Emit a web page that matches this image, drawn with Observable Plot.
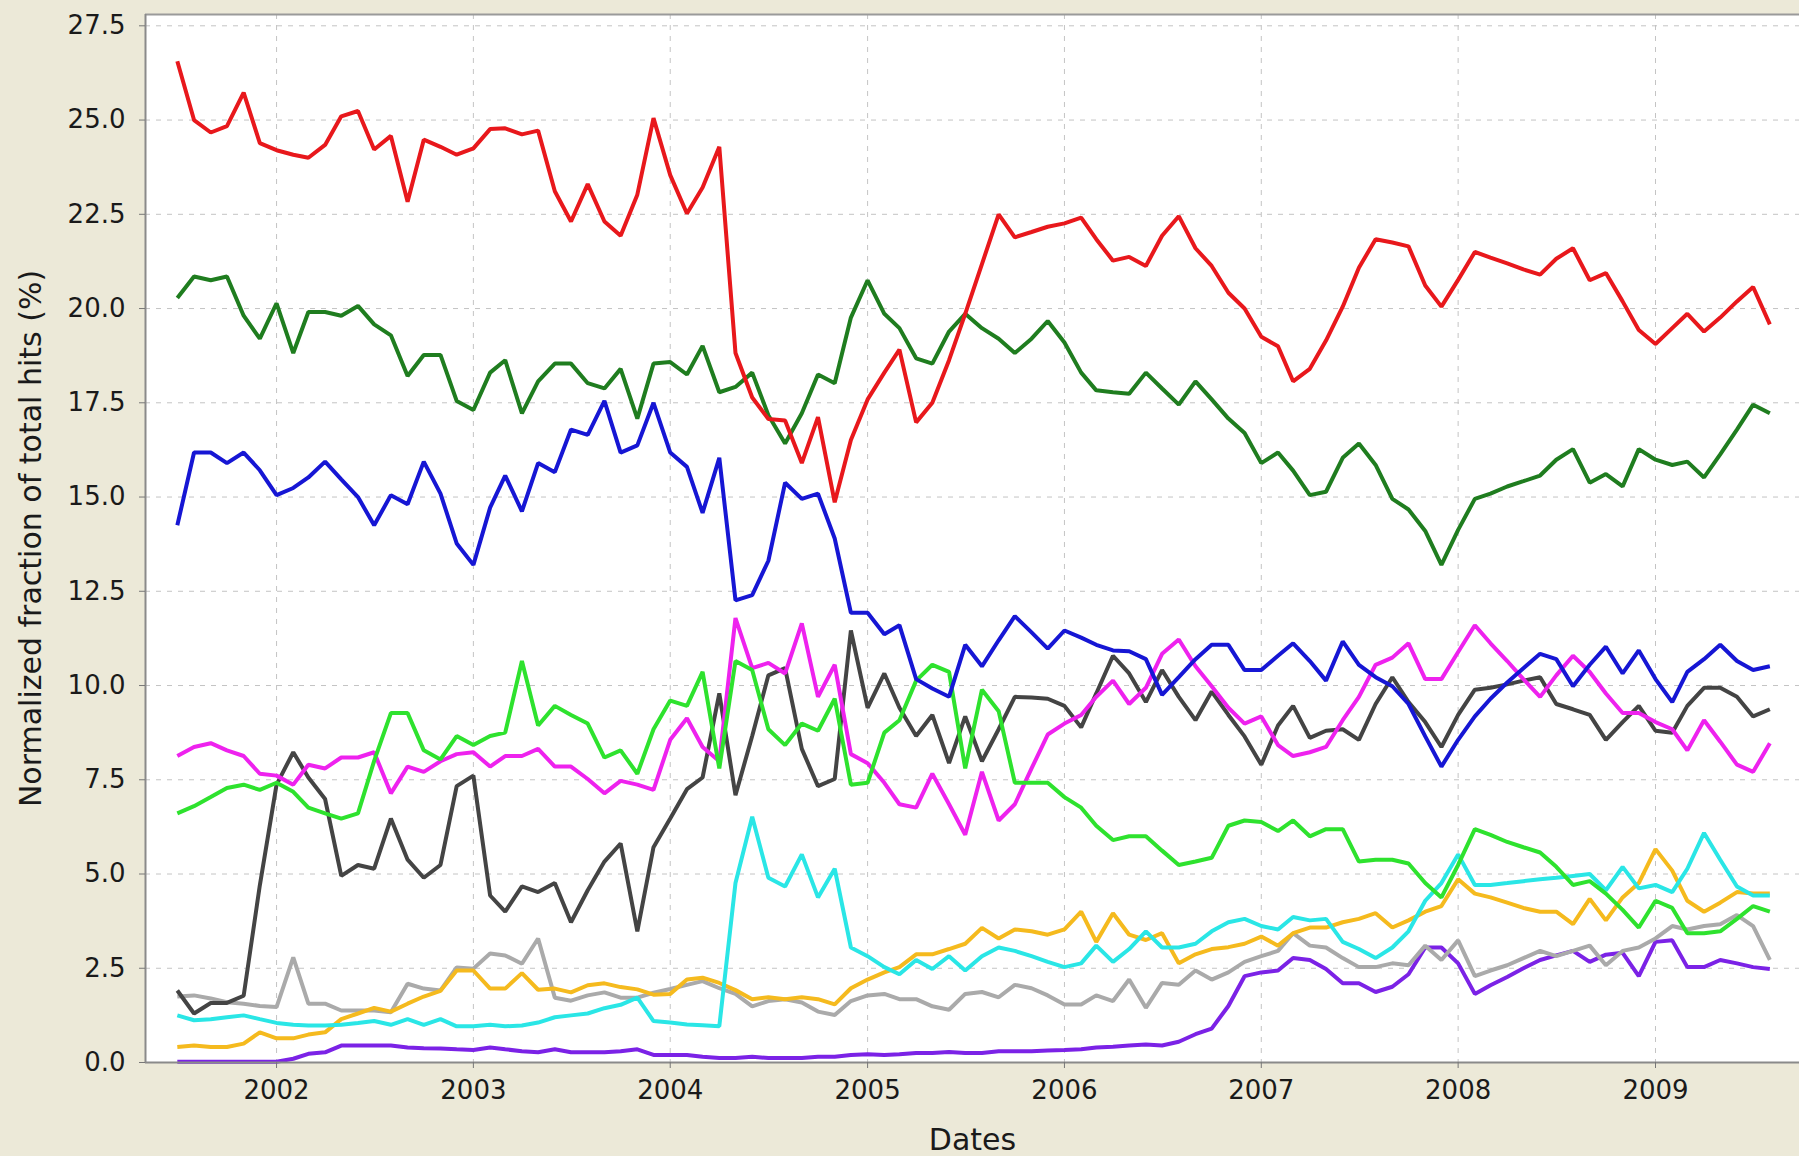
<!DOCTYPE html>
<html><head><meta charset="utf-8">
<script src="https://cdn.jsdelivr.net/npm/d3@7"></script>
<script src="https://cdn.jsdelivr.net/npm/@observablehq/plot@0.6"></script>
<style>
html,body{margin:0;padding:0;background:#ece9d8;}
#chart{width:1799px;height:1156px;overflow:hidden;}
#chart svg{display:block;}
</style></head><body><div id="chart"></div>
<script>
// Monthly observations, July 2001 .. August 2009
const firstYear = 2001, firstMonth = 6, monthCount = 98;
const xTickYears = [2002, 2003, 2004, 2005, 2006, 2007, 2008, 2009];
const yTickValues = [0, 2.5, 5, 7.5, 10, 12.5, 15, 17.5, 20, 22.5, 25, 27.5];

const redSeries = [26.56,25.0,24.67,24.84,25.73,24.39,24.2,24.08,24.0,24.34,25.1,25.24,
24.22,24.58,22.83,24.48,24.29,24.08,24.25,24.76,24.78,24.62,24.72,23.11,
22.31,23.3,22.31,21.93,23.02,25.05,23.54,22.52,23.21,24.29,18.82,17.64,
17.07,17.03,15.9,17.12,14.86,16.51,17.59,18.3,18.91,16.98,17.5,18.63,
19.86,21.18,22.5,21.89,22.03,22.17,22.26,22.41,21.84,21.27,21.37,21.13,
21.93,22.45,21.6,21.13,20.42,20.0,19.25,19.0,18.07,18.4,19.15,20.05,
21.08,21.84,21.75,21.65,20.61,20.05,20.76,21.5,21.35,21.2,21.04,20.9,
21.32,21.6,20.75,20.94,20.19,19.43,19.06,19.48,19.86,19.39,19.76,20.19,
20.57,19.58];
const darkGreenSeries = [20.28,20.85,20.75,20.85,19.81,19.2,20.14,18.82,19.91,19.91,19.81,20.07,
19.58,19.29,18.21,18.77,18.77,17.55,17.31,18.3,18.63,17.22,18.07,18.54,
18.54,18.02,17.88,18.4,17.08,18.54,18.58,18.25,19.01,17.78,17.92,18.3,
17.17,16.42,17.22,18.25,18.02,19.76,20.75,19.86,19.48,18.68,18.54,19.39,
19.86,19.48,19.2,18.82,19.2,19.67,19.1,18.3,17.83,17.78,17.74,18.3,
17.88,17.45,18.07,17.59,17.08,16.7,15.9,16.18,15.7,15.05,15.14,16.04,
16.42,15.85,14.95,14.67,14.1,13.2,14.13,14.95,15.09,15.28,15.42,15.57,
15.99,16.27,15.38,15.61,15.28,16.27,15.99,15.85,15.94,15.52,16.13,16.79,
17.45,17.22];
const blueSeries = [14.25,16.18,16.18,15.9,16.18,15.71,15.05,15.24,15.52,15.94,15.47,15.0,
14.25,15.05,14.81,15.94,15.09,13.77,13.2,14.72,15.57,14.62,15.9,15.66,
16.79,16.65,17.55,16.18,16.37,17.5,16.18,15.8,14.58,16.04,12.26,12.4,
13.31,15.38,14.95,15.09,13.9,11.93,11.93,11.36,11.6,10.17,9.92,9.7,
11.08,10.51,11.2,11.84,11.41,10.98,11.46,11.27,11.08,10.93,10.91,10.7,
9.75,10.22,10.7,11.08,11.08,10.41,10.41,10.79,11.12,10.65,10.13,11.17,
10.55,10.22,9.98,9.51,8.65,7.85,8.56,9.18,9.65,10.08,10.46,10.84,
10.7,9.98,10.55,11.03,10.32,10.93,10.17,9.56,10.36,10.7,11.08,10.65,
10.41,10.51];
const lightGreenSeries = [6.61,6.8,7.04,7.28,7.37,7.23,7.42,7.18,6.76,6.61,6.47,6.61,
8.0,9.27,9.27,8.28,8.04,8.66,8.42,8.66,8.75,10.65,8.94,9.46,
9.22,8.99,8.09,8.28,7.66,8.84,9.6,9.46,10.36,7.8,10.65,10.41,
8.84,8.42,8.99,8.8,9.65,7.37,7.42,8.75,9.08,10.13,10.55,10.36,
7.8,9.89,9.32,7.42,7.42,7.42,7.04,6.76,6.28,5.9,6.0,6.0,
5.62,5.24,5.33,5.43,6.28,6.42,6.38,6.14,6.42,6.0,6.19,6.19,
5.33,5.38,5.38,5.28,4.76,4.38,5.24,6.19,6.04,5.85,5.71,5.57,
5.19,4.71,4.81,4.48,4.05,3.58,4.29,4.1,3.43,3.43,3.48,3.81,
4.15,4.0];
const magentaSeries = [8.13,8.37,8.47,8.28,8.13,7.66,7.61,7.37,7.9,7.8,8.09,8.09,
8.23,7.14,7.85,7.71,7.99,8.18,8.23,7.85,8.13,8.13,8.32,7.85,
7.85,7.52,7.14,7.47,7.37,7.23,8.56,9.13,8.37,7.99,11.79,10.46,
10.6,10.32,11.65,9.7,10.55,8.18,7.94,7.42,6.85,6.76,7.66,6.85,
6.04,7.71,6.42,6.85,7.8,8.7,8.99,9.22,9.7,10.13,9.51,9.94,
10.84,11.22,10.51,9.98,9.41,8.99,9.18,8.42,8.13,8.23,8.37,9.08,
9.7,10.55,10.74,11.12,10.17,10.17,10.89,11.6,11.12,10.65,10.17,9.7,
10.27,10.79,10.36,9.79,9.27,9.27,9.03,8.84,8.28,9.08,8.51,7.9,
7.71,8.47];
const darkGraySeries = [1.91,1.3,1.58,1.58,1.77,4.7,7.37,8.23,7.56,6.99,4.95,5.24,
5.14,6.47,5.38,4.9,5.24,7.33,7.61,4.43,4.0,4.67,4.52,4.76,
3.72,4.57,5.33,5.81,3.48,5.71,6.47,7.25,7.56,9.79,7.09,8.66,
10.27,10.46,8.32,7.33,7.52,11.46,9.41,10.32,9.41,8.66,9.22,7.94,
9.18,7.99,8.84,9.7,9.68,9.65,9.46,8.89,9.79,10.79,10.32,9.56,
10.41,9.7,9.08,9.84,9.22,8.65,7.9,8.94,9.46,8.61,8.8,8.84,
8.56,9.51,10.22,9.56,9.03,8.37,9.22,9.89,9.94,10.03,10.13,10.22,
9.51,9.37,9.22,8.56,9.03,9.46,8.8,8.75,9.46,9.94,9.94,9.7,
9.18,9.37];
const cyanSeries = [1.25,1.12,1.15,1.2,1.25,1.15,1.05,1.0,0.98,0.98,1.0,1.05,
1.1,1.0,1.15,1.0,1.15,0.96,0.96,1.0,0.96,0.98,1.06,1.2,
1.25,1.3,1.44,1.53,1.72,1.1,1.06,1.01,0.99,0.96,4.76,6.52,
4.9,4.67,5.52,4.38,5.14,3.05,2.82,2.53,2.34,2.72,2.48,2.82,
2.44,2.82,3.05,2.96,2.82,2.67,2.53,2.63,3.1,2.67,3.01,3.48,
3.05,3.05,3.15,3.48,3.72,3.81,3.62,3.53,3.86,3.77,3.81,3.2,
3.01,2.77,3.05,3.48,4.29,4.76,5.52,4.71,4.71,4.76,4.81,4.86,
4.9,4.95,5.0,4.57,5.19,4.62,4.71,4.52,5.14,6.09,5.38,4.67,
4.43,4.43];
const yellowSeries = [0.41,0.45,0.41,0.41,0.5,0.8,0.64,0.64,0.74,0.8,1.15,1.3,
1.45,1.35,1.56,1.75,1.9,2.44,2.44,1.96,1.96,2.37,1.93,1.96,
1.86,2.05,2.1,2.0,1.94,1.8,1.82,2.2,2.25,2.11,1.92,1.68,
1.73,1.68,1.73,1.68,1.54,1.97,2.2,2.39,2.53,2.87,2.87,3.01,
3.15,3.57,3.29,3.53,3.48,3.39,3.53,4.0,3.2,3.96,3.39,3.25,
3.43,2.63,2.87,3.01,3.06,3.15,3.34,3.1,3.43,3.58,3.58,3.72,
3.81,3.96,3.58,3.77,4.0,4.15,4.86,4.48,4.38,4.24,4.1,4.0,
4.0,3.67,4.34,3.77,4.38,4.76,5.66,5.09,4.29,4.0,4.24,4.52,
4.48,4.48];
const graySeries = [1.75,1.78,1.7,1.6,1.56,1.5,1.47,2.79,1.56,1.56,1.38,1.38,
1.38,1.33,2.09,1.96,1.91,2.52,2.49,2.89,2.84,2.62,3.29,1.72,
1.64,1.78,1.86,1.72,1.72,1.85,1.95,2.06,2.16,1.97,1.82,1.49,
1.63,1.68,1.59,1.35,1.26,1.63,1.78,1.82,1.68,1.68,1.49,1.4,
1.82,1.87,1.73,2.06,1.97,1.78,1.54,1.54,1.78,1.63,2.2,1.45,
2.11,2.06,2.44,2.2,2.39,2.67,2.82,2.96,3.43,3.1,3.05,2.77,
2.53,2.53,2.63,2.58,3.1,2.72,3.24,2.29,2.44,2.58,2.77,2.96,
2.82,2.96,3.1,2.58,2.96,3.05,3.29,3.62,3.53,3.62,3.67,3.91,
3.62,2.72];
const purpleSeries = [0.02,0.02,0.02,0.02,0.02,0.02,0.02,0.1,0.23,0.27,0.45,0.45,
0.45,0.45,0.4,0.38,0.37,0.35,0.33,0.4,0.35,0.3,0.27,0.35,
0.27,0.27,0.27,0.3,0.35,0.2,0.2,0.2,0.15,0.12,0.12,0.15,
0.12,0.12,0.12,0.15,0.15,0.2,0.22,0.2,0.22,0.25,0.25,0.28,
0.25,0.25,0.3,0.3,0.3,0.32,0.33,0.35,0.4,0.42,0.45,0.48,
0.45,0.55,0.75,0.9,1.5,2.29,2.39,2.44,2.77,2.72,2.48,2.1,
2.1,1.87,2.01,2.34,3.05,3.05,2.63,1.82,2.05,2.27,2.5,2.72,
2.84,2.96,2.67,2.86,2.91,2.29,3.2,3.24,2.53,2.53,2.72,2.63,
2.53,2.48];

// drawing order (first drawn = bottom)
const seriesList = [
  {name: "purple", values: purpleSeries, color: "#7b22e6"},
  {name: "gray", values: graySeries, color: "#aaaaaa"},
  {name: "yellow", values: yellowSeries, color: "#f5ba1e"},
  {name: "cyan", values: cyanSeries, color: "#2ae6e6"},
  {name: "darkgray", values: darkGraySeries, color: "#444444"},
  {name: "magenta", values: magentaSeries, color: "#ee22ee"},
  {name: "lightgreen", values: lightGreenSeries, color: "#2ee22e"},
  {name: "blue", values: blueSeries, color: "#1616d4"},
  {name: "darkgreen", values: darkGreenSeries, color: "#1f7d1f"},
  {name: "red", values: redSeries, color: "#e8181c"}
];

const monthDate = i => new Date(Date.UTC(firstYear, firstMonth + i, 1));
const xTicks = xTickYears.map(y => new Date(Date.UTC(y, 0, 1)));
const xDomain = [new Date(Date.UTC(2001, 4, 3)), new Date(Date.UTC(2009, 8, 25))];

const lineMarks = seriesList.map(s =>
  Plot.line(s.values.map((v, i) => ({date: monthDate(i), value: v})), {
    x: "date", y: "value", stroke: s.color, strokeWidth: 4,
    strokeLinejoin: "miter", strokeLinecap: "butt"
  })
);

const chart = Plot.plot({
  width: 1799, height: 1156,
  marginLeft: 145, marginRight: 0, marginTop: 14, marginBottom: 94,
  style: {background: "transparent", fontFamily: "'DejaVu Sans', sans-serif", fontSize: "26px", color: "#1a1a1a"},
  x: {type: "utc", domain: xDomain},
  y: {domain: [0, 27.8]},
  marks: [
    Plot.frame({fill: "white", stroke: null}),
    Plot.gridX(xTicks, {stroke: "#c4c4c4", strokeOpacity: 1, strokeDasharray: "5,6"}),
    Plot.gridY(yTickValues.slice(1), {stroke: "#c4c4c4", strokeOpacity: 1, strokeDasharray: "5,6"}),
    ...lineMarks,
    Plot.ruleY([27.8], {stroke: "#9a9a9a", strokeWidth: 2}),
    Plot.ruleY([0], {stroke: "#8a8a8a", strokeWidth: 2}),
    Plot.ruleX([xDomain[0]], {stroke: "#8a8a8a", strokeWidth: 2}),
    Plot.axisX(xTicks, {tickSize: 6, tickPadding: 12, tickFormat: d => String(d.getUTCFullYear()), label: null, stroke: "#777", fontSize: 26}),
    Plot.axisY(yTickValues, {tickSize: 6, tickPadding: 14, tickFormat: d3.format(".1f"), label: null, stroke: "#777", fontSize: 26}),
    Plot.text(["Dates"], {text: d => d, frameAnchor: "bottom", dy: 87, fontSize: 30, fill: "#1a1a1a"}),
    Plot.text(["Normalized fraction of total hits (%)"], {text: d => d, frameAnchor: "left", textAnchor: "middle", dx: -114, rotate: -90, fontSize: 30, fill: "#1a1a1a"})
  ]
});
document.getElementById("chart").appendChild(chart);
</script></body></html>
